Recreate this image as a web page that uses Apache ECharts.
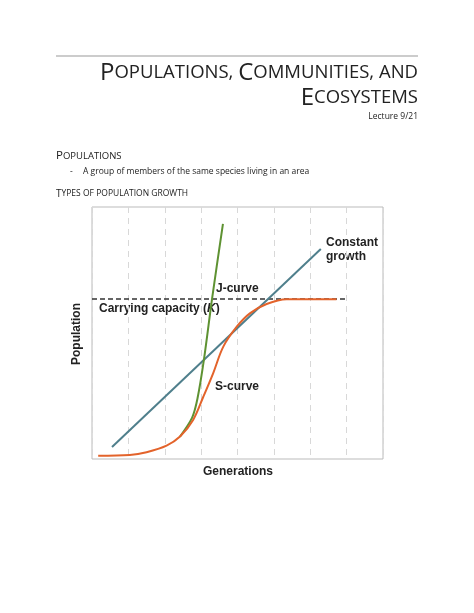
<!DOCTYPE html>
<html><head><meta charset="utf-8">
<script src="https://cdn.jsdelivr.net/npm/echarts@6/dist/echarts.min.js"></script>
<style>html,body{margin:0;padding:0;background:#fff}#c{width:474px;height:613px}</style>
</head><body><div id="c"></div>
<script>
const sCurve = [[0.17,0.13],[1.04,0.16],[1.5,0.27],[2.05,0.53],[2.42,0.89],[2.78,1.55],[3.06,2.47],[3.33,3.4],[3.61,4.46],[3.98,5.25],[4.34,5.78],[4.8,6.15],[5.35,6.34],[6.72,6.34]];
const jCurve = [[2.42,0.89],[2.75,1.63],[2.9,2.4],[3.08,3.97],[3.3,6.35],[3.6,9.33]];
const constantGrowth = [[0.55,0.48],[6.29,8.33]];
const carryingK = [[0,6.35],[7.03,6.35]];
const F = 'Liberation Sans, Arial, sans-serif';
const D = 'Open Sans, Lato, sans-serif';
function sc(word){return '{b|'+word[0]+'}{s|'+word.slice(1)+'}';}
const chart = echarts.init(document.getElementById('c'));
chart.setOption({
  backgroundColor:'#fff', animation:false,
  grid:{left:92,top:207,width:291,height:252,show:true,borderColor:'#bbb',borderWidth:1},
  xAxis:{type:'value',min:0,max:8,interval:1,axisLine:{show:false},axisTick:{show:false},axisLabel:{show:false},
    splitLine:{show:true,lineStyle:{color:'#d8d8d8',type:[6,5],width:1}}},
  yAxis:{type:'value',min:0,max:10,axisLine:{show:false},axisTick:{show:false},axisLabel:{show:false},splitLine:{show:false}},
  series:[
    {type:'line',data:carryingK,symbol:'none',lineStyle:{color:'#333',width:1.3,type:[5,3]}},
    {type:'line',data:constantGrowth,symbol:'none',lineStyle:{color:'#4f7f8c',width:2}},
    {type:'line',data:jCurve,symbol:'none',smooth:0.3,lineStyle:{color:'#5e9232',width:2}},
    {type:'line',data:sCurve,symbol:'none',smooth:0.35,lineStyle:{color:'#e3632b',width:2}}
  ],
  graphic:[
    {type:'line',shape:{x1:56,y1:56,x2:418,y2:56},style:{stroke:'#999',lineWidth:1}},
    {type:'text',right:56,top:61,style:{text:sc('POPULATIONS,')+'{s| }'+sc('COMMUNITIES,')+'{s| }{s|AND}',font:'20px '+D,fill:'#222',
      rich:{b:{fontSize:24,fontFamily:D,fill:'#222'},s:{fontSize:18.5,fontFamily:D,fill:'#222'}}}},
    {type:'text',right:56,top:86,style:{text:sc('ECOSYSTEMS'),font:'20px '+D,fill:'#222',
      rich:{b:{fontSize:24,fontFamily:D,fill:'#222'},s:{fontSize:18.5,fontFamily:D,fill:'#222'}}}},
    {type:'text',right:56,top:112,style:{text:'Lecture 9/21',font:'8.5px '+D,fill:'#222'}},
    {type:'text',left:56,top:150,style:{text:sc('POPULATIONS'),fill:'#222',
      rich:{b:{fontSize:11.5,fontFamily:D,fill:'#222'},s:{fontSize:9.5,fontFamily:D,fill:'#222'}}}},
    {type:'text',left:70,top:167,style:{text:'-',font:'8.5px '+D,fill:'#222'}},
    {type:'text',left:83,top:167,style:{text:'A group of members of the same species living in an area',font:'8.5px '+D,fill:'#222'}},
    {type:'text',left:56,top:189,style:{text:'{b|T}{s|YPES OF POPULATION GROWTH}',fill:'#222',
      rich:{b:{fontSize:10,fontFamily:D,fill:'#222'},s:{fontSize:8.5,fontFamily:D,fill:'#222'}}}},
    {type:'text',left:326,top:236,style:{text:'Constant\ngrowth',font:'bold 12px '+F,fill:'#222',lineHeight:14}},
    {type:'text',left:216,top:283,style:{text:'J-curve',font:'bold 12px '+F,fill:'#222'}},
    {type:'text',left:99,top:303,style:{text:'Carrying capacity ({i|K})',font:'bold 12px '+F,fill:'#222',
      rich:{i:{fontStyle:'italic',fontWeight:'bold',fontSize:12,fontFamily:F,fill:'#222'}}}},
    {type:'text',left:215,top:381,style:{text:'S-curve',font:'bold 12px '+F,fill:'#222'}},
    {type:'text',x:77,y:334,rotation:Math.PI/2,style:{text:'Population',font:'bold 12px '+F,fill:'#222',align:'center',verticalAlign:'middle'}},
    {type:'text',x:238,y:472,style:{text:'Generations',font:'bold 12px '+F,fill:'#222',align:'center',verticalAlign:'middle'}}
  ]
});
</script></body></html>
